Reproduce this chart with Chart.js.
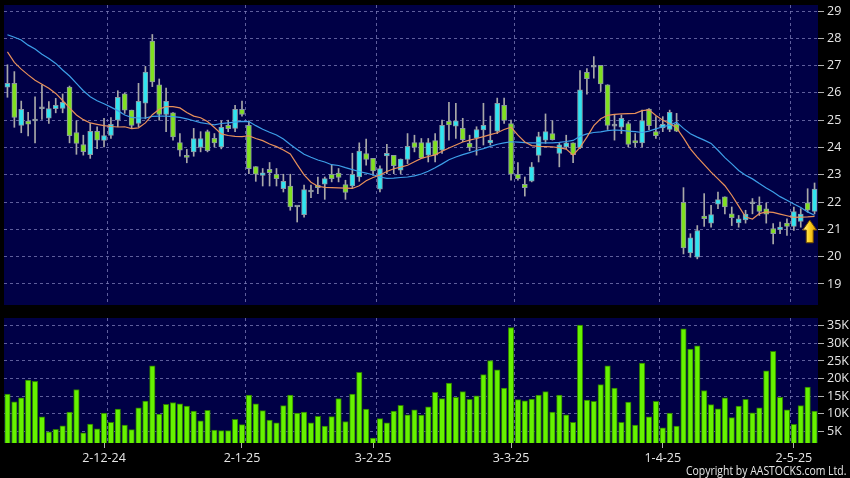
<!DOCTYPE html>
<html>
<head>
<meta charset="utf-8">
<title>Daily chart</title>
<script src="https://cdn.jsdelivr.net/npm/chart.js@4.4.1/dist/chart.umd.min.js"></script>
<style>
    html, body { margin: 0; padding: 0; background: #000; }
    #wrap { position: relative; width: 850px; height: 478px; overflow: hidden; background: #000; }
    #price-chart { position: absolute; left: 0; top: 0; }
    #volume-chart { position: absolute; left: 0; top: 310px; }
    .copyright {
        position: absolute; right: 4px; top: 463px;
        font: 12px 'Open Sans', sans-serif; line-height: 15px; color: #e6e6e6;
        transform: scaleX(0.87); transform-origin: right center; white-space: nowrap;
    }
</style>
</head>
<body>
<div id="wrap">
    <canvas id="price-chart" width="850" height="310"></canvas>
    <canvas id="volume-chart" width="850" height="168"></canvas>
    <div class="copyright">Copyright by AASTOCKS.com Ltd.</div>
</div>
<script>
// Daily prices, one entry per trading day (12 Nov 2024 -> early May 2025)
const opens = [
    26.21, 26.35, 24.81, 24.97, 24.97, 25.42, 25.07, 25.42, 25.43, 26.21,
    24.55, 24.11, 23.74, 24.59, 24.26, 24.44, 25.00, 25.97, 25.37, 24.88,
    25.62, 27.90, 26.30, 25.21, 25.27, 24.18, 23.71, 23.84, 24.00, 24.58,
    24.34, 24.02, 24.81, 24.70, 25.40, 24.81, 23.30, 22.98, 23.20, 23.02,
    22.49, 22.59, 21.82, 21.54, 22.37, 22.61, 22.66, 23.02, 23.06, 22.64,
    22.59, 22.92, 23.78, 23.60, 22.47, 23.69, 23.71, 23.17, 23.56, 24.18,
    24.18, 23.72, 24.25, 23.90, 24.96, 24.78, 24.70, 24.15, 24.34, 24.64,
    24.17, 24.60, 25.54, 24.88, 23.02, 22.65, 22.77, 23.71, 24.27, 24.51,
    23.78, 24.02, 24.17, 23.99, 26.75, 26.94, 27.01, 26.30, 24.78, 24.74,
    24.88, 24.25, 24.17, 25.41, 24.58, 24.72, 24.66, 24.85, 21.99, 20.14,
    19.98, 21.49, 21.23, 21.92, 22.19, 21.57, 21.24, 21.35, 21.94, 21.89,
    21.75, 21.03, 20.99, 21.23, 21.11, 21.29, 21.97, 21.66
];
const highs = [
    27.03, 26.78, 25.70, 25.29, 25.86, 26.29, 25.68, 25.80, 25.96, 26.25,
    24.98, 24.45, 24.88, 24.76, 25.07, 25.10, 26.08, 25.99, 25.37, 26.35,
    26.97, 28.14, 26.51, 26.18, 25.28, 24.51, 23.93, 24.70, 24.58, 24.64,
    24.51, 24.98, 25.00, 25.54, 25.70, 24.98, 23.30, 23.23, 23.45, 23.23,
    23.02, 23.02, 21.85, 22.62, 22.62, 22.92, 22.92, 23.35, 23.23, 22.80,
    23.79, 24.17, 24.31, 23.60, 23.33, 24.12, 23.71, 23.58, 24.51, 24.45,
    24.33, 24.33, 24.51, 25.00, 25.65, 25.62, 25.07, 24.45, 24.76, 25.62,
    25.15, 25.81, 25.81, 25.00, 23.45, 22.92, 23.45, 24.56, 25.23, 24.98,
    24.15, 24.45, 24.17, 26.82, 26.89, 27.33, 27.01, 26.30, 25.19, 25.19,
    24.94, 24.51, 25.37, 25.43, 25.13, 25.13, 25.37, 25.25, 22.53, 20.84,
    21.14, 22.31, 21.88, 22.37, 22.19, 21.82, 21.51, 21.70, 22.13, 22.19,
    21.97, 21.21, 21.27, 21.39, 21.82, 21.76, 22.49, 22.70
];
const lows = [
    25.84, 24.74, 24.54, 24.42, 24.17, 25.03, 24.88, 25.27, 25.27, 24.17,
    23.75, 23.72, 23.60, 23.96, 24.02, 24.33, 24.76, 25.25, 24.70, 24.76,
    25.05, 26.23, 25.00, 24.58, 24.27, 23.68, 23.44, 23.68, 23.84, 23.84,
    24.02, 23.95, 24.58, 24.58, 25.15, 23.04, 22.76, 22.59, 22.59, 22.59,
    22.37, 21.70, 21.27, 21.45, 22.16, 22.31, 22.10, 22.74, 22.74, 22.10,
    22.53, 22.76, 23.35, 22.98, 22.37, 23.04, 23.04, 23.04, 23.41, 23.84,
    23.60, 23.47, 23.47, 23.78, 24.27, 24.33, 24.21, 23.88, 23.72, 24.09,
    24.09, 24.51, 24.88, 22.80, 22.80, 22.22, 22.74, 23.47, 24.15, 24.27,
    23.29, 23.96, 23.44, 23.96, 25.95, 26.54, 26.05, 24.66, 24.27, 24.51,
    24.02, 24.02, 24.02, 24.64, 24.33, 24.58, 24.58, 24.58, 20.10, 19.98,
    19.92, 21.11, 21.08, 21.76, 21.57, 21.14, 21.08, 21.23, 21.57, 21.51,
    21.23, 20.47, 20.84, 20.78, 20.96, 21.08, 21.63, 21.57
];
const closes = [
    26.35, 25.10, 25.40, 24.85, 24.97, 25.42, 25.43, 25.54, 25.65, 24.43,
    24.15, 23.85, 24.59, 24.27, 24.44, 24.85, 25.84, 25.37, 24.81, 25.69,
    26.76, 26.40, 25.21, 25.69, 24.39, 23.90, 23.64, 24.33, 24.33, 23.88,
    24.17, 24.74, 24.69, 25.40, 25.21, 23.22, 23.02, 23.07, 23.08, 22.86,
    22.76, 21.82, 21.82, 22.46, 22.37, 22.53, 22.86, 22.86, 22.90, 22.35,
    23.02, 23.87, 23.56, 23.14, 23.23, 23.79, 23.33, 23.58, 24.04, 24.00,
    23.62, 24.18, 23.72, 24.81, 24.83, 24.98, 24.29, 24.00, 24.66, 24.81,
    24.27, 25.62, 24.99, 23.02, 22.86, 22.53, 23.29, 24.40, 24.58, 24.29,
    24.10, 24.17, 23.74, 26.11, 26.52, 26.94, 26.33, 24.81, 24.78, 25.07,
    24.11, 24.17, 24.99, 24.80, 24.43, 24.85, 25.29, 24.60, 20.32, 20.69,
    20.96, 21.39, 21.54, 22.09, 21.82, 21.43, 21.39, 21.56, 21.94, 21.66,
    21.56, 20.84, 21.08, 21.11, 21.65, 21.56, 21.70, 22.48
];

// Moving averages as drawn on the chart (short = orange, long = blue)
const maShort = [
    27.50, 27.12, 26.87, 26.66, 26.46, 26.32, 26.17, 25.98, 25.72, 25.45,
    25.19, 25.02, 24.90, 24.85, 24.80, 24.77, 24.75, 24.76, 24.69, 24.72,
    24.90, 25.20, 25.40, 25.50, 25.50, 25.45, 25.28, 25.15, 25.09, 24.95,
    24.73, 24.50, 24.44, 24.41, 24.40, 24.43, 24.33, 24.25, 24.13, 24.03,
    23.91, 23.76, 23.37, 23.00, 22.73, 22.58, 22.54, 22.53, 22.52, 22.51,
    22.50, 22.60, 22.78, 22.90, 22.99, 23.12, 23.22, 23.28, 23.35, 23.48,
    23.60, 23.67, 23.73, 23.86, 23.98, 24.09, 24.20, 24.27, 24.33, 24.40,
    24.47, 24.54, 24.66, 24.74, 24.45, 24.20, 24.07, 24.04, 24.03, 24.02,
    23.99, 23.94, 23.72, 24.00, 24.38, 24.80, 25.05, 25.18, 25.21, 25.23,
    25.24, 25.25, 25.35, 25.38, 25.17, 25.00, 24.88, 24.72, 24.35, 23.95,
    23.65, 23.37, 23.10, 22.85, 22.60, 22.25, 21.85, 21.45, 21.38, 21.58,
    21.64, 21.62, 21.56, 21.50, 21.44, 21.45, 21.46, 21.48
];
const maLong = [
    28.13, 28.04, 27.94, 27.75, 27.61, 27.42, 27.26, 27.08, 26.84, 26.62,
    26.35, 26.08, 25.86, 25.71, 25.60, 25.48, 25.35, 25.19, 25.10, 25.08,
    25.08, 25.14, 25.15, 25.15, 25.13, 25.10, 25.05, 24.98, 24.91, 24.87,
    24.83, 24.88, 24.90, 24.93, 24.96, 24.95, 24.80, 24.67, 24.56, 24.46,
    24.31, 24.11, 23.93, 23.75, 23.64, 23.54, 23.47, 23.37, 23.34, 23.26,
    23.19, 23.12, 23.06, 23.00, 22.92, 22.87, 22.88, 22.90, 22.92, 22.96,
    23.03, 23.13, 23.26, 23.40, 23.55, 23.65, 23.74, 23.81, 23.89, 23.96,
    24.04, 24.12, 24.17, 24.21, 24.20, 24.18, 24.17, 24.17, 24.17, 24.17,
    24.19, 24.22, 24.26, 24.41, 24.50, 24.55, 24.57, 24.62, 24.64, 24.63,
    24.60, 24.58, 24.55, 24.60, 24.68, 24.76, 24.82, 24.93, 24.70, 24.50,
    24.38, 24.27, 24.15, 23.90, 23.63, 23.40, 23.16, 22.98, 22.85, 22.68,
    22.52, 22.37, 22.20, 22.07, 21.93, 21.80, 21.64, 21.52
];

// Daily volume, thousands of shares
const volumes = [
    15.6, 13.4, 14.5, 19.6, 19.2, 9.1, 4.9, 5.6, 6.6, 10.5,
    16.9, 4.6, 7.1, 5.7, 10.2, 7.6, 11.3, 6.8, 5.5, 11.7,
    13.6, 23.6, 9.9, 12.7, 13.2, 12.8, 12.2, 10.8, 8.0, 11.0,
    5.4, 5.2, 5.2, 8.4, 6.9, 15.3, 12.8, 10.9, 8.2, 7.4,
    12.3, 15.3, 10.2, 10.5, 7.4, 9.3, 6.5, 9.2, 14.3, 7.8,
    15.6, 21.8, 11.3, 3.1, 8.6, 7.4, 10.8, 12.4, 9.7, 11.1,
    9.6, 12.0, 16.1, 14.3, 18.7, 14.7, 16.3, 14.1, 15.1, 21.1,
    25.1, 22.5, 17.3, 34.5, 14.0, 13.7, 14.2, 15.3, 16.3, 10.5,
    15.3, 9.7, 7.6, 35.2, 13.9, 13.5, 18.3, 23.6, 17.3, 7.6,
    13.3, 6.8, 24.4, 9.1, 13.5, 6.0, 10.2, 6.5, 34.1, 28.4,
    29.3, 16.6, 12.6, 11.4, 14.5, 8.9, 12.2, 14.1, 10.3, 11.7,
    22.2, 27.7, 14.7, 11.1, 7.0, 12.3, 17.6, 10.8
];

// Axis ticks
const priceTicks = [19, 20, 21, 22, 23, 24, 25, 26, 27, 28, 29];
const volumeTicks = [5, 10, 15, 20, 25, 30, 35];
const volumeTickLabels = ['5K', '10K', '15K', '20K', '25K', '30K', '35K'];
const dateLabels = ['2-12-24', '2-1-25', '3-2-25', '3-3-25', '1-4-25', '2-5-25'];
const dateIndex = [14, 34, 53, 73, 95, 114];      // bar of each date label
const monthBreaks = [14.5, 34.5, 53.5, 73.5, 94.5, 113.5]; // vertical grid lines

// Up arrow under the last candles
const arrowAt = { index: 116.3, top: 21.34, bottom: 20.51 };

const COLORS = {
    plot: '#000046',
    grid: 'rgba(125, 125, 185, 0.75)',
    text: '#e6e6e6',
    tick: '#b0b0b0',
    up: '#30e4f0',
    down: '#80e020',
    flat: '#a0a0a0',
    candleBorder: '#8c98a4',
    wick: '#a8a8a8',
    maShort: '#e8905a',
    maLong: '#3d9fe8',
    volume: '#66f200',
    volumeBorder: '#2c7c00'
};

const AXIS_FONT = { family: "'Open Sans', sans-serif", size: 12.5 };

// Paint the navy plot area
const plotBackground = {
    id: 'plotBackground',
    beforeDraw: function(chart) {
        const { ctx, chartArea: a } = chart;
        ctx.save();
        ctx.fillStyle = COLORS.plot;
        ctx.fillRect(a.left, a.top, a.width, a.height);
        ctx.restore();
    }
};

// Yellow arrow marker
const arrowMarker = {
    id: 'arrowMarker',
    afterDatasetsDraw: function(chart) {
        const { ctx, scales } = chart;
        const cx = scales.x.getPixelForValue(arrowAt.index);
        const top = scales.y.getPixelForValue(arrowAt.top);
        const bottom = scales.y.getPixelForValue(arrowAt.bottom);
        const headHalf = 7, shaftHalf = 3.5, headHeight = 10;
        const grad = ctx.createLinearGradient(cx - headHalf, 0, cx + headHalf, 0);
        grad.addColorStop(0, '#fff3a8');
        grad.addColorStop(0.45, '#ffd523');
        grad.addColorStop(1, '#e09800');
        ctx.save();
        ctx.beginPath();
        ctx.moveTo(cx, top);
        ctx.lineTo(cx + headHalf, top + headHeight);
        ctx.lineTo(cx + shaftHalf, top + headHeight);
        ctx.lineTo(cx + shaftHalf, bottom);
        ctx.lineTo(cx - shaftHalf, bottom);
        ctx.lineTo(cx - shaftHalf, top + headHeight);
        ctx.lineTo(cx - headHalf, top + headHeight);
        ctx.closePath();
        ctx.fillStyle = grad;
        ctx.fill();
        ctx.strokeStyle = '#6e4a00';
        ctx.lineWidth = 1;
        ctx.stroke();
        ctx.restore();
    }
};

// Helpers for fixed tick lists
function fixedTicks(values) {
    return function(scale) {
        scale.ticks = values.map(v => ({ value: v }));
    };
}

const Charts = {
    xIndex: opens.map((_, i) => i),

    init: function() {
        this.initPriceChart();
        this.initVolumeChart();
    },

    // Shared x axis carrying only the month grid lines
    gridAxis: function() {
        return {
            type: 'linear',
            min: -0.5,
            max: opens.length - 0.5,
            offset: false,
            afterBuildTicks: fixedTicks(monthBreaks),
            afterFit: function(scale) { scale.height = 0; },
            ticks: { display: false },
            grid: { color: COLORS.grid, drawTicks: false, offset: false },
            border: { display: false, dash: [3, 3] }
        };
    },

    // Right-hand value axis
    valueAxis: function(min, max, ticks, labelFn) {
        return {
            type: 'linear',
            position: 'right',
            min: min,
            max: max,
            afterBuildTicks: fixedTicks(ticks),
            afterFit: function(scale) {
                scale.width = 32;
                scale.paddingTop = 0;
                scale.paddingBottom = 0;
            },
            ticks: { color: COLORS.text, font: AXIS_FONT, padding: 3, callback: labelFn },
            grid: { color: COLORS.grid, tickColor: COLORS.tick, tickLength: 6, tickBorderDash: [] },
            border: { display: false, dash: [3, 3] }
        };
    },

    // Candles, wicks and moving averages
    initPriceChart: function() {
        const idx = this.xIndex;
        const bodyColors = idx.map(i =>
            closes[i] > opens[i] ? COLORS.up : (closes[i] < opens[i] ? COLORS.down : COLORS.flat));

        new Chart(document.getElementById('price-chart'), {
            type: 'bar',
            data: {
                datasets: [
                    {
                        label: 'MA short',
                        type: 'line',
                        data: idx.map(i => ({ x: i, y: maShort[i] })),
                        borderColor: COLORS.maShort,
                        borderWidth: 1.2,
                        pointRadius: 0,
                        order: 1
                    },
                    {
                        label: 'MA long',
                        type: 'line',
                        data: idx.map(i => ({ x: i, y: maLong[i] })),
                        borderColor: COLORS.maLong,
                        borderWidth: 1.2,
                        pointRadius: 0,
                        order: 1
                    },
                    {
                        label: 'Body',
                        data: idx.map(i => ({ x: i, y: [Math.min(opens[i], closes[i]), Math.max(opens[i], closes[i])] })),
                        backgroundColor: bodyColors,
                        borderColor: COLORS.candleBorder,
                        borderWidth: 1,
                        borderSkipped: false,
                        barThickness: 5,
                        minBarLength: 2,
                        grouped: false,
                        order: 2
                    },
                    {
                        label: 'Wick',
                        data: idx.map(i => ({ x: i, y: [lows[i], highs[i]] })),
                        backgroundColor: COLORS.wick,
                        barThickness: 1,
                        grouped: false,
                        order: 3
                    }
                ]
            },
            options: {
                responsive: false,
                animation: false,
                events: [],
                layout: { padding: { left: 4, top: 5, right: 0, bottom: 5 } },
                plugins: { legend: { display: false }, tooltip: { enabled: false } },
                scales: {
                    x: this.gridAxis(),
                    y: this.valueAxis(18.23, 29.22, priceTicks, v => String(v))
                }
            },
            plugins: [plotBackground, arrowMarker]
        });
    },

    // Volume bars with date axis
    initVolumeChart: function() {
        const idx = this.xIndex;
        new Chart(document.getElementById('volume-chart'), {
            type: 'bar',
            data: {
                datasets: [{
                    label: 'Volume',
                    data: idx.map(i => ({ x: i, y: volumes[i] })),
                    backgroundColor: COLORS.volume,
                    borderColor: COLORS.volumeBorder,
                    borderWidth: 1,
                    barThickness: 5.5
                }]
            },
            options: {
                responsive: false,
                animation: false,
                events: [],
                layout: { padding: { left: 4, top: 8, right: 0, bottom: 0 } },
                plugins: { legend: { display: false }, tooltip: { enabled: false } },
                scales: {
                    x: this.gridAxis(),
                    xDates: {
                        type: 'linear',
                        position: 'bottom',
                        min: -0.5,
                        max: opens.length - 0.5,
                        offset: false,
                        afterBuildTicks: fixedTicks(dateIndex),
                        afterFit: function(scale) { scale.height = 35; },
                        ticks: {
                            color: COLORS.text,
                            font: AXIS_FONT,
                            padding: 3,
                            autoSkip: false,
                            maxRotation: 0,
                            callback: (v, i) => dateLabels[i]
                        },
                        grid: { drawOnChartArea: false, offset: false, tickColor: COLORS.tick, tickLength: 5 },
                        border: { display: false }
                    },
                    y: this.valueAxis(1.7, 37.2, volumeTicks, (v, i) => volumeTickLabels[i])
                }
            },
            plugins: [plotBackground]
        });
    }
};

Charts.init();
</script>
</body>
</html>
